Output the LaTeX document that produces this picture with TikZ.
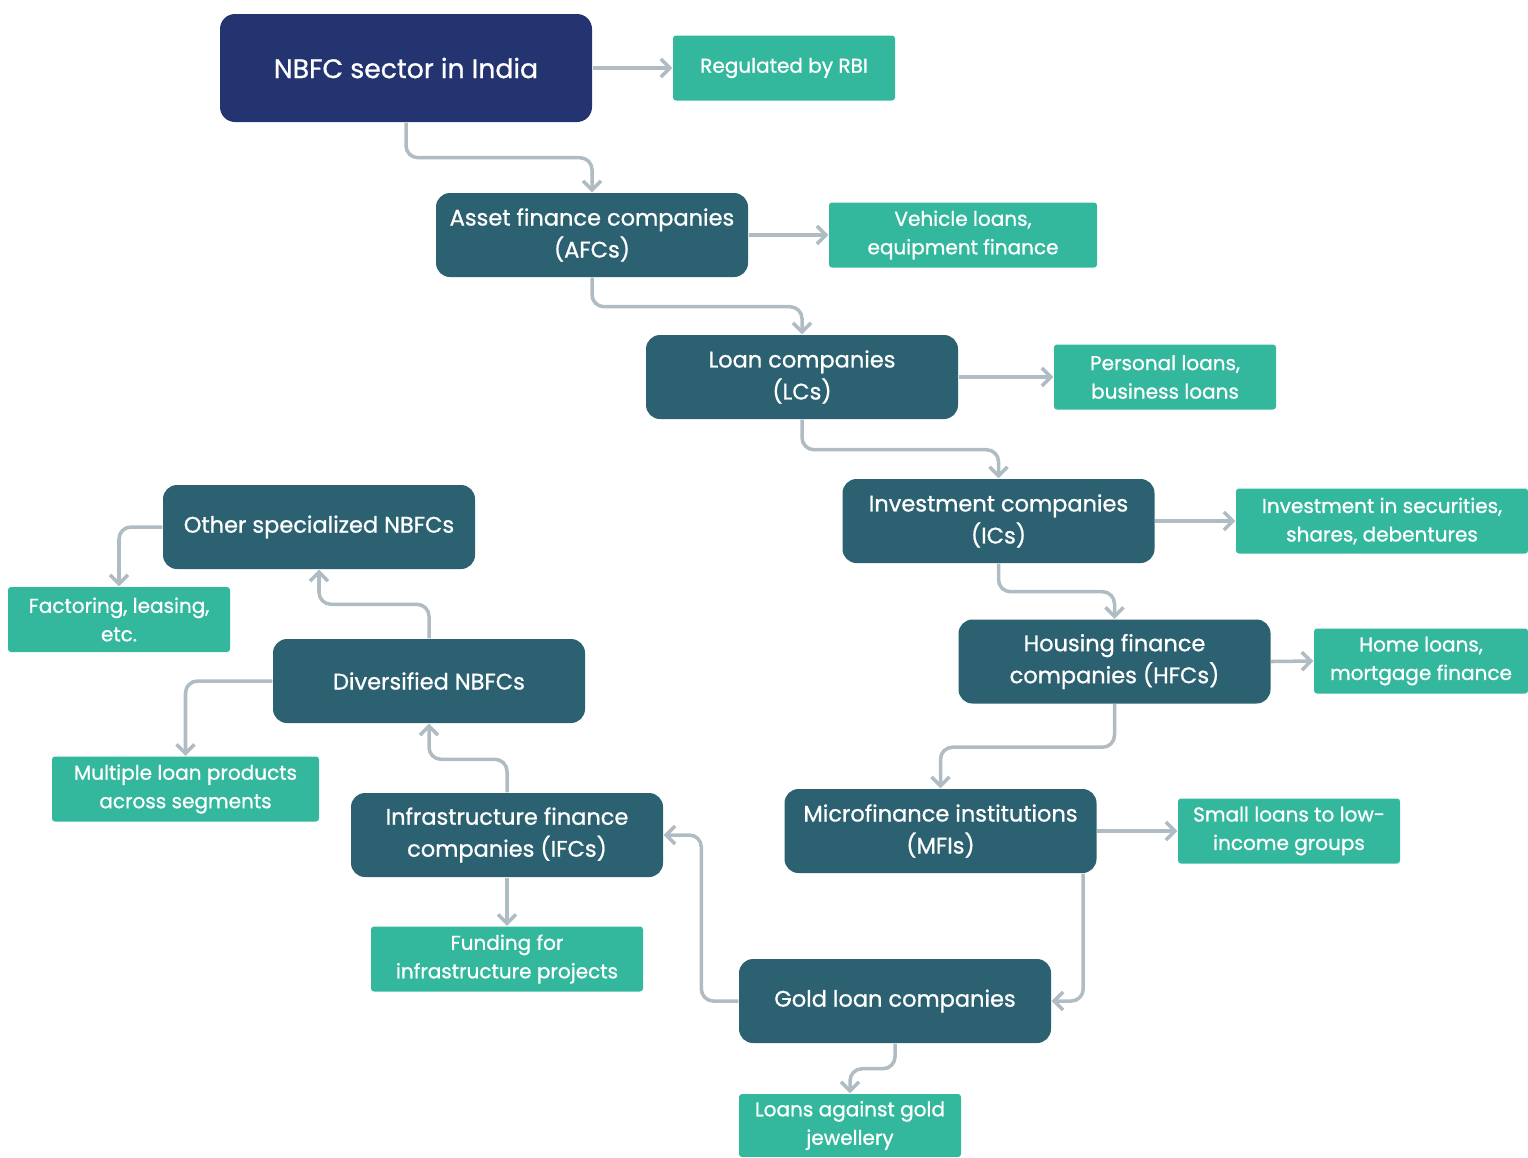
\documentclass[tikz,border=0pt]{standalone}
\usepackage{fontspec}
\setmainfont{Poppins}[BoldFont=Poppins, BoldFeatures={FakeBold=0.9}]
\usetikzlibrary{arrows.meta}

\definecolor{nbfcnavy}{HTML}{243470}
\definecolor{nbfcteal}{HTML}{2B6170}
\definecolor{nbfcgreen}{HTML}{33B89D}
\definecolor{linkgray}{HTML}{B0BCC4}

\tikzset{
  sector/.style={fill=nbfcnavy, text=white, rounded corners=0.15cm, minimum width=3.72cm, minimum height=1.08cm, inner sep=0pt, font=\fontsize{7.6}{10}\selectfont\bfseries},
  kind/.style={fill=nbfcteal, text=white, rounded corners=0.14cm, minimum width=3.12cm, minimum height=0.84cm, inner sep=0pt, align=center, font=\fontsize{6.4}{9.1}\selectfont\bfseries},
  detail/.style={fill=nbfcgreen, text=white, rounded corners=0.03cm, minimum width=2.22cm, minimum height=0.65cm, inner sep=0pt, align=center, font=\fontsize{5.7}{8.1}\selectfont\bfseries},
  link/.style={draw=linkgray, line width=1pt, rounded corners=0.12cm, -{Straight Barb[length=0.9mm, width=1.8mm]}},
}

\begin{document}
\begin{tikzpicture}
    \useasboundingbox (0,0) rectangle (15.28,-11.57);

    % main chain
    \node[sector] (nbfc) at (4.06,-0.68) {NBFC sector in India};
    \node[kind] (afc) at (5.92,-2.35) {Asset finance companies\\(AFCs)};
    \node[kind] (lc) at (8.02,-3.77) {Loan companies\\(LCs)};
    \node[kind] (ic) at (9.985,-5.21) {Investment companies\\(ICs)};
    \node[kind] (hfc) at (11.145,-6.615) {Housing finance\\companies (HFCs)};
    \node[kind] (mfi) at (9.405,-8.31) {Microfinance institutions\\(MFIs)};
    \node[kind] (gold) at (8.95,-10.01) {Gold loan companies};
    \node[kind] (ifc) at (5.07,-8.35) {Infrastructure finance\\companies (IFCs)};
    \node[kind] (div) at (4.29,-6.81) {Diversified NBFCs};
    \node[kind] (other) at (3.19,-5.27) {Other specialized NBFCs};

    % what each one does
    \node[detail] (rbi) at (7.84,-0.68) {Regulated by RBI};
    \node[detail, minimum width=2.68cm] (vehicle) at (9.63,-2.35) {Vehicle loans,\\equipment finance};
    \node[detail] (personal) at (11.65,-3.77) {Personal loans,\\business loans};
    \node[detail, minimum width=2.92cm] (securities) at (13.82,-5.21) {Investment in securities,\\shares, debentures};
    \node[detail, minimum width=2.14cm] (home) at (14.21,-6.61) {Home loans,\\mortgage finance};
    \node[detail] (small) at (12.89,-8.31) {Small loans to low-\\income groups};
    \node[detail, minimum height=0.63cm] (jewellery) at (8.50,-11.255) {Loans against gold\\jewellery};
    \node[detail, minimum width=2.72cm] (funding) at (5.07,-9.59) {Funding for\\infrastructure projects};
    \node[detail, minimum width=2.67cm] (multiple) at (1.855,-7.89) {Multiple loan products\\across segments};
    \node[detail] (factoring) at (1.19,-6.195) {Factoring, leasing,\\etc.};

    \draw[link] (nbfc.east) -- (rbi.west);
    \draw[link] (nbfc.south) -- ++(0,-0.35) -| (afc.north);
    \draw[link] (afc.east) -- (vehicle.west);
    \draw[link] (afc.south) -- ++(0,-0.29) -| (lc.north);
    \draw[link] (lc.east) -- (personal.west);
    \draw[link] (lc.south) -- ++(0,-0.30) -| (ic.north);
    \draw[link] (ic.east) -- (securities.west);
    \draw[link] (ic.south) -- ++(0,-0.28) -| (hfc.north);
    \draw[link] (hfc.east) -- (home.west);
    \draw[link] (hfc.south) -- ++(0,-0.43) -| (mfi.north);
    \draw[link] (mfi.east) -- (small.west);
    \draw[link] ([xshift=-0.14cm]mfi.south east) |- (gold.east);
    \draw[link] (gold.south) -- ++(0,-0.25) -| (jewellery.north);
    \draw[link] (gold.west) -- ++(-0.37,0) |- (ifc.east);
    \draw[link] (ifc.south) -- (funding.north);
    \draw[link] (ifc.north) -- ++(0,0.33) -| (div.south);
    \draw[link] (div.west) -| (multiple.north);
    \draw[link] (div.north) -- ++(0,0.34) -| (other.south);
    \draw[link] (other.west) -| (factoring.north);
  \end{tikzpicture}
\end{document}
